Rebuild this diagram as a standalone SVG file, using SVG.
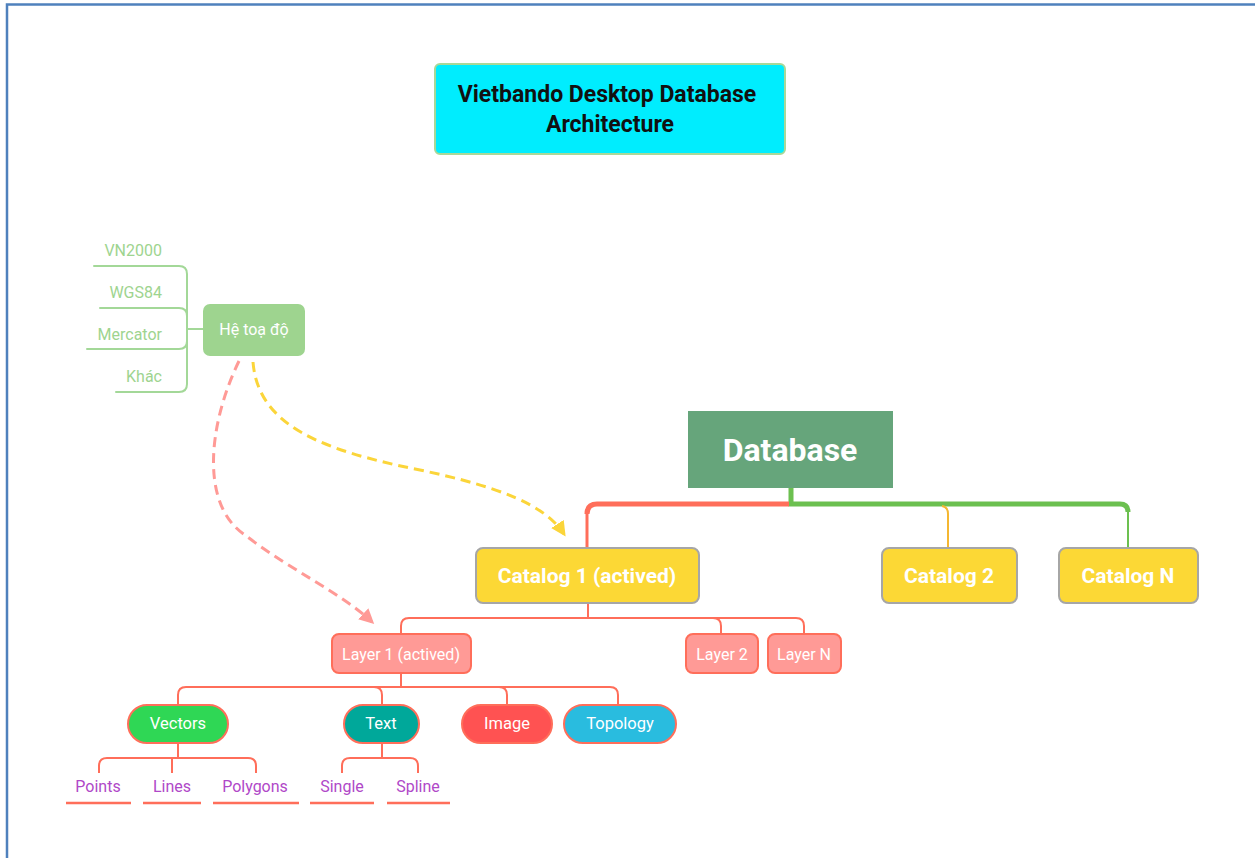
<svg xmlns="http://www.w3.org/2000/svg" width="1255" height="858" viewBox="0 0 1255 858">
<defs>
<style>
.t{font-family:Roboto,"Liberation Sans",sans-serif;text-anchor:middle;dominant-baseline:central}
.w{fill:#ffffff}
.g{fill:none;stroke:#a3d898;stroke-width:2;stroke-linecap:round}
.r{fill:none;stroke:#ff6e5a;stroke-width:2}
.cat{fill:#fcd835;stroke:#a6a6a6;stroke-width:2}
.lay{fill:#ff9a96;stroke:#ff6e5a;stroke-width:2}
.pill{stroke:#ff6e5a;stroke-width:2}
.leaf{fill:#b048c8;font-size:16px}
.ul{stroke:#ff6e5a;stroke-width:2.5}
.gl{fill:#9ed48f;font-size:16px;text-anchor:end}
</style>
<marker id="ay" viewBox="0 0 10 10" refX="8" refY="5" markerWidth="5" markerHeight="5" orient="auto" markerUnits="strokeWidth"><path d="M0,0 L10,5 L0,10 Z" fill="#fbd53a"/></marker>
<marker id="ap" viewBox="0 0 10 10" refX="8" refY="5" markerWidth="5" markerHeight="5" orient="auto" markerUnits="strokeWidth"><path d="M0,0 L10,5 L0,10 Z" fill="#ff9a96"/></marker>
</defs>
<rect width="1255" height="858" fill="#ffffff"/>
<g id="frame" fill="none" stroke="#4f81bd" stroke-width="2.5">
<path d="M7 858 V4.5 H1255"/>
</g>

<g id="connectors">
<path d="M791 488 V504 H1120 Q1128 504 1128 512" fill="none" stroke="#6cc050" stroke-width="5"/>
<path d="M1128 510 V548" fill="none" stroke="#6cc050" stroke-width="2"/>
<path d="M789 504 H597 Q587 504 587 514" fill="none" stroke="#ff6e5a" stroke-width="5"/>
<path d="M587 512 V548" fill="none" stroke="#ff6e5a" stroke-width="3"/>
<path d="M942 506 Q948 507 948 514 V548" fill="none" stroke="#f5b731" stroke-width="2"/>
<path class="r" d="M588 603 V618"/>
<path class="r" d="M401 634 V626 Q401 618 409 618 H796 Q804 618 804 626 V634"/>
<path class="r" d="M713 618 Q721 618 721 626 V634"/>
<path class="r" d="M401 673 V687"/>
<path class="r" d="M178 704 V695 Q178 687 186 687 H610 Q618 687 618 695 V704"/>
<path class="r" d="M374 687 Q382 687 382 695 V704"/>
<path class="r" d="M499 687 Q507 687 507 695 V704"/>
<path class="r" d="M178 743 V758"/>
<path class="r" d="M99 773 V766 Q99 758 107 758 H248 Q256 758 256 766 V773"/>
<path class="r" d="M172 758 V773"/>
<path class="r" d="M382 743 V758"/>
<path class="r" d="M342 773 V766 Q342 758 350 758 H410 Q418 758 418 766 V773"/>
<path class="g" d="M203 329 H187"/>
<path class="g" d="M94 266 H179 Q187 266 187 274 V384 Q187 392 179 392 H116"/>
<path class="g" d="M100 308 H179 Q187 308 187 316"/>
<path class="g" d="M87 349 H179 Q187 349 187 341"/>
<path d="M253 362 C258 425 320 450 420 470 C500 487 545 505 564 534" fill="none" stroke="#fbd53a" stroke-width="3" stroke-dasharray="10 6" marker-end="url(#ay)"/>
<path d="M239 361 C208 425 200 505 245 535 C290 570 340 592 372 622" fill="none" stroke="#ff9a96" stroke-width="3" stroke-dasharray="10 6" marker-end="url(#ap)"/>
</g>

<g id="title">
<rect x="435" y="64" width="350" height="90" rx="5" fill="#00edfe" stroke="#a8d898" stroke-width="2"/>
<text class="t" x="607" y="94" font-size="23" font-weight="bold" fill="#111111">Vietbando Desktop Database</text>
<text class="t" x="610" y="124" font-size="23" font-weight="bold" fill="#111111">Architecture</text>
</g>

<g id="he-toa-do">
<rect x="203" y="304" width="102" height="52" rx="7" fill="#9ed48f"/>
<text class="t w" x="254" y="329" font-size="16">Hệ toạ độ</text>
</g>
<g id="vn2000"><text class="t gl" x="162" y="250">VN2000</text></g>
<g id="wgs84"><text class="t gl" x="162" y="292">WGS84</text></g>
<g id="mercator"><text class="t gl" x="162" y="334">Mercator</text></g>
<g id="khac"><text class="t gl" x="162" y="376">Khác</text></g>

<g id="database">
<rect x="688" y="411" width="205" height="77" fill="#66a57b"/>
<text class="t w" x="790" y="450" font-size="32" font-weight="bold">Database</text>
</g>

<g id="catalog1">
<rect class="cat" x="476" y="548" width="223" height="55" rx="7"/>
<text class="t w" x="587" y="576" font-size="21" font-weight="bold">Catalog 1 (actived)</text>
</g>
<g id="catalog2">
<rect class="cat" x="882" y="548" width="135" height="55" rx="7"/>
<text class="t w" x="949" y="576" font-size="21" font-weight="bold">Catalog 2</text>
</g>
<g id="catalogN">
<rect class="cat" x="1059" y="548" width="139" height="55" rx="7"/>
<text class="t w" x="1128" y="576" font-size="21" font-weight="bold">Catalog N</text>
</g>

<g id="layer1">
<rect class="lay" x="332" y="634" width="139" height="39" rx="7"/>
<text class="t w" x="401" y="654" font-size="16">Layer 1 (actived)</text>
</g>
<g id="layer2">
<rect class="lay" x="686" y="634" width="72" height="39" rx="7"/>
<text class="t w" x="722" y="654" font-size="16">Layer 2</text>
</g>
<g id="layerN">
<rect class="lay" x="768" y="634" width="73" height="39" rx="7"/>
<text class="t w" x="804" y="654" font-size="16">Layer N</text>
</g>

<g id="vectors">
<rect class="pill" x="128" y="705" width="100" height="38" rx="19" fill="#2fd755"/>
<text class="t w" x="178" y="723" font-size="16.5">Vectors</text>
</g>
<g id="text">
<rect class="pill" x="344" y="705" width="75" height="38" rx="19" fill="#00a89a"/>
<text class="t w" x="381" y="723" font-size="16.5">Text</text>
</g>
<g id="image">
<rect class="pill" x="462" y="705" width="90" height="38" rx="19" fill="#ff5252"/>
<text class="t w" x="507" y="723" font-size="16.5">Image</text>
</g>
<g id="topology">
<rect class="pill" x="564" y="705" width="112" height="38" rx="19" fill="#29bcdf"/>
<text class="t w" x="620" y="723" font-size="16.5">Topology</text>
</g>

<g id="points"><text class="t leaf" x="98" y="786">Points</text><line class="ul" x1="66" y1="803" x2="131" y2="803"/></g>
<g id="lines"><text class="t leaf" x="172" y="786">Lines</text><line class="ul" x1="143" y1="803" x2="201" y2="803"/></g>
<g id="polygons"><text class="t leaf" x="255" y="786">Polygons</text><line class="ul" x1="213" y1="803" x2="299" y2="803"/></g>
<g id="single"><text class="t leaf" x="342" y="786">Single</text><line class="ul" x1="310" y1="803" x2="374" y2="803"/></g>
<g id="spline"><text class="t leaf" x="418" y="786">Spline</text><line class="ul" x1="387" y1="803" x2="450" y2="803"/></g>
</svg>
